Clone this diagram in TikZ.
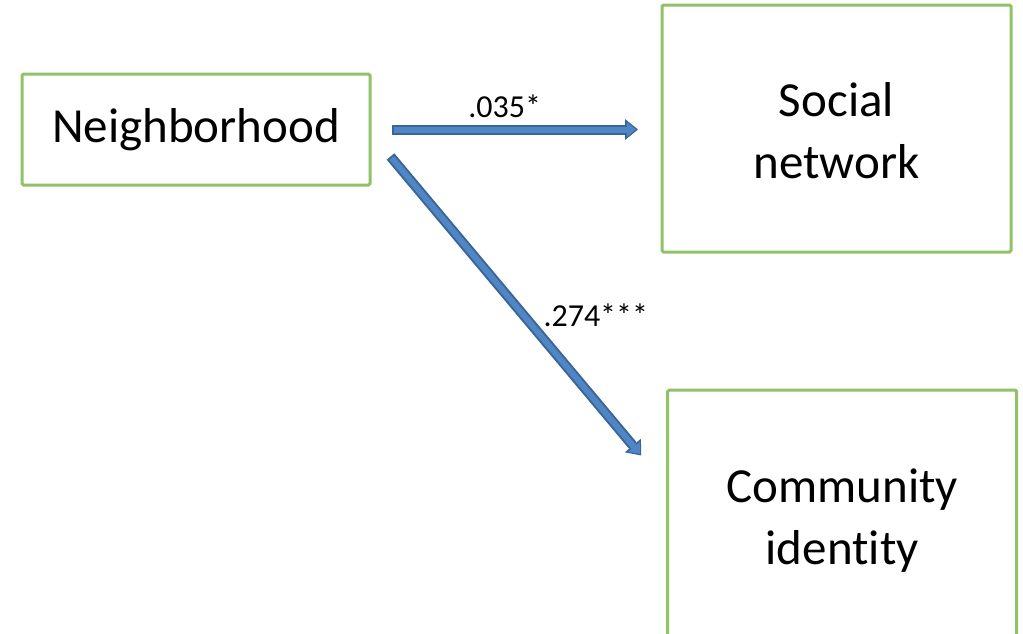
\documentclass[tikz,border=0pt]{standalone}
\usepackage{fontspec}
\setmainfont[Ligatures={NoCommon,NoContextual}]{Carlito}
\usetikzlibrary{arrows.meta,calc}
\definecolor{boxgreen}{RGB}{146,194,104}
\definecolor{arrfill}{RGB}{79,134,198}
\definecolor{arrline}{RGB}{60,100,148}
\tikzset{
  box/.style={draw=boxgreen, line width=3pt, rounded corners=1.5pt, align=center,
    font=\fontsize{49}{62}\selectfont, inner sep=0pt},
  lbl/.style={font=\fontsize{32}{38}\selectfont, inner sep=0pt},
  arrout/.style={draw=arrline, line width=10pt,
    -{Triangle[width=21pt,length=13pt,line width=0pt]}},
  arrin/.style={draw=arrfill, line width=6pt, shorten >=2.2pt, shorten <=2pt,
    -{Triangle[width=15pt,length=9pt,line width=0pt]}}
}
\begin{document}
\begin{tikzpicture}[x=1pt,y=-1pt]
\useasboundingbox (0,0) rectangle (1023,633);
\fill[white] (0,0) rectangle (1023,633);
\node[box, minimum width=348pt, minimum height=111pt] (nb) at (196,129.5) {Neighborhood};
\node[box, minimum width=349pt, minimum height=247pt, text height=101pt] (soc) at (836.5,128.5) {Social\\network};
\node[box, minimum width=349pt, minimum height=247pt, text height=109pt] (ci) at (842.2,513.5) {Community\\identity};
\coordinate (h1) at ($(nb.east)+(20.5,0)$);
\coordinate (h2) at ($(soc.west |- h1)+(-22.5,0)$);
\coordinate (d1) at ($(nb.east)+(19,27)$);
\coordinate (d2) at ($(ci.north west)+(-25,67)$);
\draw[arrout] (h1) -- (h2);
\draw[arrin] (h1) -- (h2);
\draw[arrout] (d1) -- (d2);
\draw[arrin] (d1) -- (d2);
\node[lbl, anchor=base] (l1) at (504.7,117.7) {.035*};
\node[lbl, anchor=base west] (l2) at (543.3,326.7) {.274***};
\end{tikzpicture}
\end{document}
